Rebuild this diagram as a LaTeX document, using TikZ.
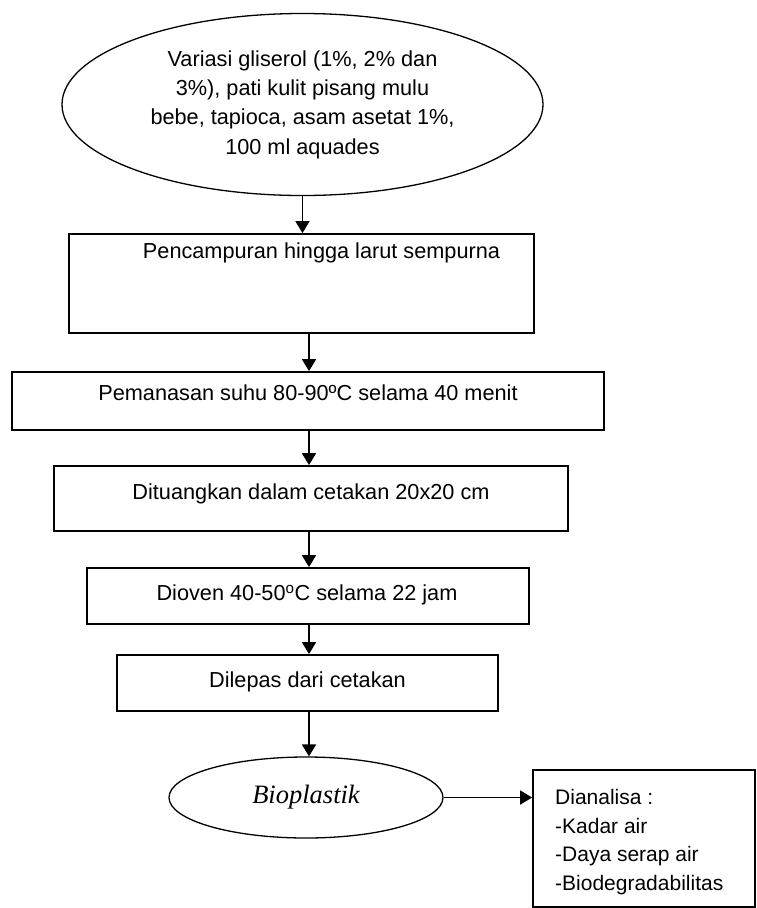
\documentclass[tikz,border=0pt]{standalone}
\usepackage{fontspec}
\setmainfont{Liberation Sans}
\newfontfamily\serifit{Liberation Serif}
\usetikzlibrary{arrows.meta,shapes.geometric}

\begin{document}
\begin{tikzpicture}[x=1pt,y=-1pt,
    stepbox/.style 2 args={draw, line width=1.8pt, inner sep=0pt,
      minimum width=#1, minimum height=#2},
    steptext/.style={inner sep=0pt, font=\fontsize{21.7}{29.3}\selectfont},
    flow/.style={line width=1.8pt, -{Triangle[width=14pt,length=12pt]}}]
  \useasboundingbox (0,0) rectangle (756,908);
  \coordinate (ax) at (309,0);

  % bahan
  \node[ellipse, draw, line width=1.3pt, inner sep=0pt,
    minimum width=481, minimum height=182, align=center,
    font=\fontsize{21.7}{29.3}\selectfont] (e1) at (302.5,104.5) {%
    Variasi gliserol (1\%, 2\% dan\\
    3\%), pati kulit pisang mulu\\
    bebe, tapioca, asam asetat 1\%,\\
    100 ml aquades};

  % tahapan proses
  \node[stepbox={465}{99}] (b1) at (301.5,283.5) {};
  \node[steptext] (t1) at (321.5,253) {Pencampuran hingga larut sempurna};
  \node[stepbox={592}{58}] (b2) at (308,401) {};
  \node[steptext] (t2) at (308,393) {Pemanasan suhu 80-90ºC selama 40 menit};
  \node[stepbox={514}{65}] (b3) at (311,498.5) {};
  \node[steptext] (t3) at (311,494) {Dituangkan dalam cetakan 20x20 cm};
  \node[stepbox={442}{56}] (b4) at (308,596) {};
  \node[steptext] (t4) at (307,595) {Dioven 40-50\textsuperscript{o}C selama 22 jam};
  \node[stepbox={381}{56}] (b5) at (307.5,683) {};
  \node[steptext] (t5) at (307.5,682) {Dilepas dari cetakan};

  % hasil
  \node[ellipse, draw, line width=1.3pt, inner sep=0pt,
    minimum width=274, minimum height=81,
    font=\serifit\itshape\fontsize{26.5}{30}\selectfont] (e2) at (306,797.5) {Bioplastik};
  \node[stepbox={222}{137}] (b6) at (644,838.5) {};
  \node[inner sep=0pt, anchor=west, align=left,
    font=\fontsize{21}{28.7}\selectfont] (t6) at (555,842) {%
    Dianalisa :\\
    -Kadar air\\
    -Daya serap air\\
    -Biodegradabilitas};

  % panah
  \draw[flow] (e1.south) -- (e1.south |- b1.north);
  \draw[flow] (b1.south -| ax) -- (b2.north -| ax);
  \draw[flow] (b2.south -| ax) -- (b3.north -| ax);
  \draw[flow] (b3.south -| ax) -- (b4.north -| ax);
  \draw[flow] (b4.south -| ax) -- (b5.north -| ax);
  \draw[flow] (b5.south -| ax) -- (e2.north -| ax);
  \draw[flow] (e2.east) -- (b6.west |- e2.east);
\end{tikzpicture}
\end{document}
